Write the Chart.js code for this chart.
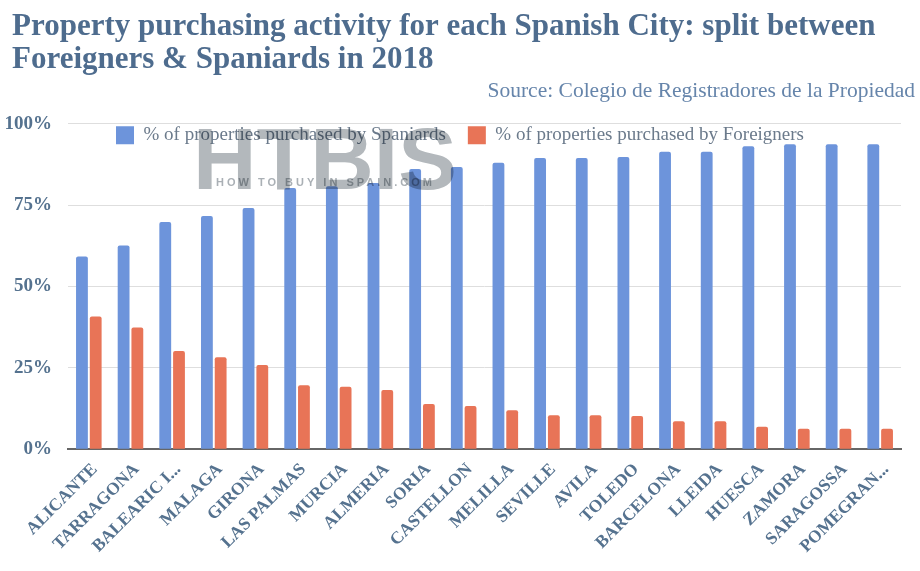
<!DOCTYPE html>
<html>
<head>
<meta charset="utf-8">
<script src="https://cdn.jsdelivr.net/npm/chart.js@4.4.1/dist/chart.umd.min.js"></script>
<style>
  html, body { margin: 0; padding: 0; background: #fff; }
  #wrap { width: 920px; height: 571px; position: relative; }
</style>
</head>
<body>
<div id="wrap"><canvas id="chart"></canvas></div>
<script>
// data
const cities = ["ALICANTE", "TARRAGONA", "BALEARIC I...", "MALAGA", "GIRONA", "LAS PALMAS", "MURCIA", "ALMERIA", "SORIA", "CASTELLON",
  "MELILLA", "SEVILLE", "AVILA", "TOLEDO", "BARCELONA", "LLEIDA", "HUESCA", "ZAMORA", "SARAGOSSA", "POMEGRAN..."];
const spaniards = [59.2, 62.6, 69.8, 71.7, 74.1, 80.3, 80.8, 81.8, 86.1, 86.7, 88.0, 89.5, 89.5, 89.8, 91.4, 91.4, 93.1, 93.7, 93.7, 93.7];
const foreigners = [40.8, 37.4, 30.2, 28.3, 25.9, 19.7, 19.2, 18.2, 13.9, 13.3, 12.0, 10.5, 10.5, 10.2, 8.6, 8.6, 6.9, 6.3, 6.3, 6.3];
const yTicks = [0, 25, 50, 75, 100];

const serif = "'Liberation Serif', 'Times New Roman', serif";
const slate = "#55728f";

// the HTBIS watermark, multiplied over everything under it
const watermark = {
  id: "watermark",
  afterDatasetsDraw(chart) {
    const ctx = chart.ctx;
    ctx.save();
    ctx.globalCompositeOperation = "multiply";
    ctx.fillStyle = "#b3b8bc";
    ctx.font = "bold 88px 'Liberation Sans', Arial, sans-serif";
    ctx.fillText("HTBIS", 193, 165);
    ctx.font = "bold 11px 'Liberation Sans', Arial, sans-serif";
    ctx.letterSpacing = "3px";
    ctx.fillStyle = "#aab0b5";
    ctx.fillText("HOW TO BUY IN SPAIN.COM", 216, 183);
    ctx.restore();
  }
};

// the legend overlaps the top of the plot area in the picture:
// report a short height while laying out, then give the full box back for drawing.
// the title also sits a bit further in than the y labels.
let legendFull = 0;
const layoutTweaks = {
  id: "layoutTweaks",
  beforeInit(chart) {
    const fit = chart.legend.fit;
    chart.legend.fit = function () {
      fit.bind(chart.legend)();
      legendFull = this.height;
      this.height = 20;
    };
  },
  afterLayout(chart) {
    const lg = chart.legend;
    lg.height = legendFull;
    lg.bottom = lg.top + legendFull;
    chart.titleBlock.left += 7;
  }
};

new Chart(document.getElementById("chart"), {
  type: "bar",
  data: {
    labels: cities,
    datasets: [
      {
        label: "% of properties purchased by Spaniards",
        data: spaniards,
        backgroundColor: "#6d94db",
        borderRadius: 2,
        borderSkipped: "bottom",
        categoryPercentage: 0.66,
        barPercentage: 0.86
      },
      {
        label: "% of properties purchased by Foreigners",
        data: foreigners,
        backgroundColor: "#e87457",
        borderRadius: 2,
        borderSkipped: "bottom",
        categoryPercentage: 0.66,
        barPercentage: 0.86
      }
    ]
  },
  options: {
    responsive: true,
    maintainAspectRatio: false,
    animation: false,
    layout: { padding: { left: 5, right: 5, top: 10, bottom: 12 } },
    plugins: {
      title: {
        display: true,
        text: ["Property purchasing activity for each Spanish City: split between", "Foreigners & Spaniards in 2018"],
        align: "start",
        color: "#4e6c8e",
        font: { family: serif, size: 31, weight: "bold", lineHeight: 1.08 },
        padding: { top: 0, bottom: 1 }
      },
      subtitle: {
        display: true,
        text: "Source: Colegio de Registradores de la Propiedad",
        align: "end",
        color: "#6685ab",
        font: { family: serif, size: 21.5, lineHeight: 1.2 },
        padding: { top: 0, bottom: 0 }
      },
      legend: {
        position: "top",
        labels: {
          boxWidth: 18,
          boxHeight: 18,
          padding: 22,
          color: "#6b7a8b",
          font: { family: serif, size: 19 }
        }
      },
      tooltip: { enabled: false }
    },
    scales: {
      x: {
        grid: { display: false },
        border: { color: "#666", width: 2 },
        ticks: {
          color: slate,
          font: { family: serif, size: 17.5, weight: "bold" },
          minRotation: 45,
          maxRotation: 45,
          autoSkip: false,
          padding: 2,
          labelOffset: 6
        },
        // rotated first label may hang out to the left without pushing the plot
        afterFit(axis) {
          axis.paddingLeft = 0;
          axis.paddingRight = 0;
        }
      },
      y: {
        min: 0,
        max: 100,
        afterBuildTicks(axis) {
          axis.ticks = yTicks.map(v => ({ value: v }));
        },
        afterFit(axis) {
          axis.width = 63;
        },
        grid: { color: "#dedede", drawTicks: false },
        border: { display: false },
        ticks: {
          color: slate,
          padding: 16,
          font: { family: serif, size: 19, weight: "bold" },
          callback: v => v + "%"
        }
      },
      // empty strip on the right so the plot ends before the source line does
      yRight: {
        position: "right",
        display: true,
        grid: { display: false },
        border: { display: false },
        ticks: { display: false },
        afterFit(axis) {
          axis.width = 14;
        }
      }
    }
  },
  plugins: [layoutTweaks, watermark]
});
</script>
</body>
</html>
